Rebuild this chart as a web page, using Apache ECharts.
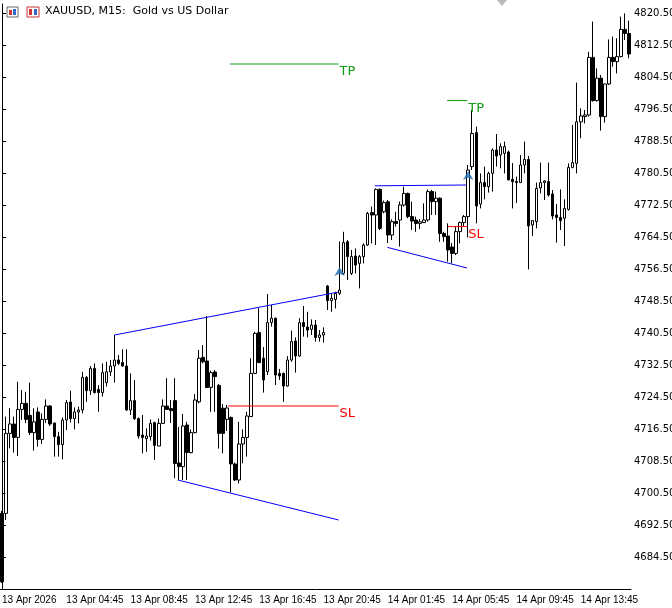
<!DOCTYPE html>
<html><head><meta charset="utf-8">
<script src="https://cdn.jsdelivr.net/npm/echarts@6/dist/echarts.min.js"></script>
<style>html,body{margin:0;padding:0;background:#fff}#c{width:672px;height:608px}</style>
</head><body><div id="c"></div>
<script>
// [open, high, low, close] per M15 bar
const candles = [
[4695.4,4696,4678,4678.3],[4695.4,4719.6,4693.75,4715.4],[4715.4,4721.7,4711.7,4717.75],[4717.75,4719.6,4710.6,4714.4],
[4714.4,4728.3,4709.75,4721.4],[4721.4,4726.25,4718.75,4722.9],[4722.9,4725.8,4718,4718.9],[4719.9,4728.1,4715,4715.6],
[4715.6,4721.7,4711.1,4718.3],[4720.75,4721.9,4712.1,4713.9],[4713.9,4720.4,4712.75,4718.9],[4718.9,4723.9,4718,4722.25],
[4722.25,4722.5,4717.25,4717.75],[4718,4718.1,4709.6,4714.6],[4714.6,4715.8,4709.6,4712.6],[4712.6,4719.4,4708.9,4718.75],
[4718.75,4723.75,4716.25,4723.1],[4723.25,4726.1,4718.1,4719.1],[4719.1,4721.9,4716.4,4720.75],[4720.75,4722.1,4717.9,4721.25],
[4721.25,4730.8,4720.4,4729.4],[4729.4,4729.75,4723.3,4726.1],[4726.1,4732.25,4725,4731.65],[4731.65,4732.9,4725.4,4725.6],
[4726.4,4727.5,4720.8,4725.6],[4725.6,4732.9,4724.6,4730.6],[4728.1,4733.3,4727.1,4730.8],[4730.8,4733.75,4729.75,4732.25],
[4732.25,4740,4728.1,4733.75],[4733.75,4735,4732.5,4732.9],[4733.1,4736.4,4732.1,4732.25],[4732.25,4736.4,4721.1,4721.25],
[4721.25,4730.4,4720,4723.6],[4723.6,4728.75,4718.75,4719.1],[4719.1,4719.4,4714.1,4714.75],[4715,4720,4710.4,4714.4],
[4714.1,4716.65,4710.8,4714.75],[4714.6,4718.9,4713.6,4717.9],[4718.1,4718.3,4708.75,4712.4],[4712.25,4719.1,4712.25,4717.9],
[4717.9,4723.9,4717.75,4722.25],[4722.25,4729.2,4721.25,4721.4],[4721.6,4723.75,4718,4721.1],[4723.6,4729.2,4704.2,4707.9],
[4708,4717,4703.75,4707.1],[4707.1,4720.25,4703.75,4717.25],[4717.5,4718.3,4703.75,4710.6],[4710.6,4716.4,4710.4,4715.6],
[4715.6,4725.25,4715.4,4723.75],[4723.3,4736.25,4722.9,4734.2],[4734.4,4737.5,4732.9,4733.3],[4733.5,4744.75,4726.7,4726.9],
[4726.9,4731.1,4720.8,4730.6],[4730.75,4731.25,4720.8,4729.6],[4727.4,4727.75,4711.6,4715.4],[4721.7,4722.75,4710.4,4715.4],
[4718.9,4722.5,4716,4721.75],[4719.4,4719.6,4700.6,4707.75],[4707.75,4708.1,4703.5,4703.75],[4703.75,4718.3,4702.9,4712.75],
[4712.75,4716.4,4707.9,4714.4],[4714.4,4720.8,4709.6,4719.75],[4719.6,4734.2,4719.5,4730.4],[4730.4,4740.8,4730.25,4740.4],
[4740.6,4746.7,4733,4733.1],[4734.2,4737,4725.6,4728.75],[4730.85,4750.25,4730,4743.1],[4743.1,4747.5,4742.1,4744.2],
[4744.2,4744.35,4727.5,4730],[4730.4,4731.5,4728.75,4729.75],[4730.4,4730.6,4723.3,4727.25],[4727.25,4734.75,4727.1,4733.75],
[4733.75,4741.1,4733.3,4738.35],[4738.5,4739.4,4730.6,4734.75],[4734.75,4744.2,4734.6,4743.1],[4743.1,4747.25,4739.6,4742.1],
[4742,4745.8,4739.4,4741.25],[4741.4,4743.9,4740,4742.5],[4742.5,4743.75,4738.35,4739.4],[4739.4,4741.25,4738.35,4740],
[4740,4741.9,4738.1,4740.6],[4752.25,4752.5,4746.25,4748.6],[4748.6,4750.4,4745.8,4749.2],[4748.9,4750.8,4746.65,4750.4],
[4750.4,4763.4,4750,4751.25],[4755.4,4765.8,4755,4763.1],[4763.3,4763.75,4753.75,4759.6],[4755.4,4761.25,4755,4759.6],
[4759.75,4761.65,4755.4,4757.5],[4757.9,4760,4751.65,4759.6],[4759.6,4762.9,4757.9,4762.5],[4762.5,4770.8,4762.25,4770.4],
[4770.6,4772.1,4762.9,4770],[4770,4776.65,4762.5,4776.4],[4776.4,4776.65,4766.25,4766.65],[4770.8,4773.6,4770.4,4773.1],
[4773.3,4773.75,4763,4765],[4765,4768.9,4763.75,4768.35],[4768.35,4770.8,4767.1,4767.9],[4768.75,4773.35,4762.1,4772.5],
[4772.5,4777.1,4772.1,4775.4],[4775.4,4775.6,4769.2,4769.6],[4769.6,4773.35,4766.25,4768.5],[4768.75,4769.6,4765.8,4767.9],
[4767.9,4769,4766.5,4768.3],[4768.1,4772.9,4768,4768.75],[4768.75,4776.4,4768.35,4775.85],[4775.85,4776.25,4770,4773.35],
[4773.35,4775.85,4770,4774.2],[4774.2,4774.4,4763.3,4765.4],[4765.4,4765.8,4763.3,4764.6],[4764.75,4767.9,4758.35,4761.25],
[4762,4763,4757.9,4760.4],[4760.4,4767.1,4760,4765.85],[4765.85,4768.35,4762.9,4768.1],[4768.1,4770,4767.1,4769.6],
[4769.6,4782.5,4764.4,4781.25],[4782.1,4796.25,4781.25,4790.4],[4790.6,4792.1,4767.9,4772.25],[4772.75,4780.4,4771.65,4778.1],
[4778.1,4782.1,4773.9,4777.1],[4777.1,4780.8,4775.6,4780.4],[4780.4,4786.65,4775.85,4786.25],[4786.25,4790.25,4782.1,4784.75],
[4785,4787.9,4781.65,4787.1],[4785.4,4788.35,4780.4,4787.1],[4785.75,4786.1,4778.75,4778.75],[4778.9,4783,4771.65,4778.35],
[4778.35,4779.6,4773,4778.1],[4778.1,4785,4778,4782.5],[4782.5,4788.35,4780.4,4783.9],[4783.9,4784.75,4756.4,4767.25],
[4767.5,4768.75,4764.75,4768.6],[4768.35,4778.1,4766.65,4776.65],[4776.75,4783.1,4775.4,4778.1],[4778.1,4778.75,4773.75,4778.5],
[4778.4,4783.1,4774.6,4775],[4775.25,4776.25,4768.9,4769.75],[4770,4772.75,4763.1,4769.4],[4769.4,4776.4,4766.25,4768.6],
[4769.2,4773.9,4762.25,4771.65],[4771.4,4782.9,4771.1,4781.9],[4781.9,4792.5,4781.65,4783.1],[4782.9,4803.1,4780.4,4793.3],
[4793.3,4796.65,4789.2,4794.75],[4794.6,4796.25,4792.9,4795],[4795,4810.8,4794.6,4809.4],[4809.4,4818.35,4798.35,4798.6],
[4798.6,4806.65,4798.35,4804.2],[4804.2,4805,4791.1,4794.6],[4794.6,4802.9,4793.1,4802.75],[4802.75,4813.9,4802.5,4809.4],
[4809.4,4814.6,4807.1,4808.35],[4808.35,4814.2,4805.4,4809.6],[4809.6,4819.6,4809.4,4816.4],[4816.4,4820.4,4813.75,4815.4],
[4815.4,4818.6,4809.2,4810.25]
];
const tickLabels = {0:'13 Apr 2026',16:'13 Apr 04:45',32:'13 Apr 08:45',48:'13 Apr 12:45',64:'13 Apr 16:45',
  80:'13 Apr 20:45',96:'14 Apr 01:45',112:'14 Apr 05:45',128:'14 Apr 09:45',144:'14 Apr 13:45'};
const buyArrows = [[84,4757.0],[116,4781.0]];
const blueLines = [[[28,4740],[83.75,4750.75]],[[43.75,4703.75],[83.75,4693.75]],
  [[92.75,4777.3],[115.5,4777.5]],[[95.9,4761.9],[115.7,4756.75]]];
const slLines = [[[56.25,4722.25],[83.75,4722.25]],[[110.9,4767.1],[115.75,4767.1]]];
const tpLines = [[[56.75,4807.75],[83.75,4807.75]],[[110.75,4798.6],[115.75,4798.6]]];

const cats = candles.map((c,i)=>String(i));
const ck = candles.map(c=>[c[0],c[3],c[2],c[1]]);
const series = [{type:'candlestick',data:ck,barWidth:3,
  itemStyle:{color:'#fff',color0:'#000',borderColor:'#000',borderColor0:'#000',borderWidth:1}}];
series.push({type:'scatter',xAxisIndex:1,data:buyArrows,symbol:'arrow',symbolSize:[8,9],
  itemStyle:{color:'#1e6eb4'},z:5});
const mk=(d,col,lab)=>({type:'line',xAxisIndex:1,data:d,symbol:'none',lineStyle:{color:col,width:1},
  animation:false,silent:true,z:4,
  endLabel:lab?{show:true,formatter:lab,color:col,fontSize:13,fontFamily:'DejaVu Sans',offset:[-3,8],distance:4}:undefined});
blueLines.forEach(d=>series.push(mk(d,'#0000ff')));
slLines.forEach(d=>series.push(mk(d,'#ff0000','SL')));
tpLines.forEach(d=>series.push(mk(d,'#119911','TP')));

const chart = echarts.init(document.getElementById('c'));
chart.setOption({
  animation:false,
  grid:{left:0,right:41,top:4,bottom:19,containLabel:false,outerBoundsMode:'none'},
  xAxis:[{type:'category',data:cats,boundaryGap:true,
    axisLine:{lineStyle:{color:'#000'}},
    axisTick:{length:4,alignWithLabel:true,interval:(i)=>tickLabels[i]!==undefined,lineStyle:{color:'#000'}},
    axisLabel:{interval:(i)=>tickLabels[i]!==undefined,formatter:(v,i)=>tickLabels[i]||'',align:'left',hideOverlap:false,
      margin:6,fontSize:10,color:'#000',fontFamily:'Liberation Sans'},splitLine:{show:false}},
    {type:'value',min:-0.5,max:156.5,show:false}],
  yAxis:{type:'value',position:'right',min:4676.5,max:4822.75,interval:8,scale:true,
    axisLine:{show:true,lineStyle:{color:'#000'}},axisTick:{show:true,length:4,lineStyle:{color:'#000'}},
    axisLabel:{showMinLabel:false,showMaxLabel:false,formatter:v=>v.toFixed(2),fontSize:10,color:'#000',
      fontFamily:'DejaVu Sans',margin:3},splitLine:{show:false}},
  graphic:[
    {type:'rect',shape:{x:7,y:7,width:11,height:10},style:{fill:'#fff',stroke:'#666'}},
    {type:'rect',shape:{x:9,y:10,width:3,height:5},style:{fill:'#c33'}},
    {type:'rect',shape:{x:13,y:9,width:3,height:6},style:{fill:'#36c'}},
    {type:'rect',shape:{x:27,y:7,width:12,height:10},style:{fill:'#fff',stroke:'#c33'}},
    {type:'rect',shape:{x:29,y:9,width:3,height:6},style:{fill:'#c33'}},
    {type:'rect',shape:{x:34,y:9,width:3,height:6},style:{fill:'#36c'}},
    {type:'text',left:45,top:6,style:{text:'XAUUSD, M15:  Gold vs US Dollar',font:'11px "DejaVu Sans"',fill:'#000'}},
    {type:'polygon',shape:{points:[[497,0],[507,0],[502,6]]},style:{fill:'#bbb'}}
  ],
  series
});
</script></body></html>
